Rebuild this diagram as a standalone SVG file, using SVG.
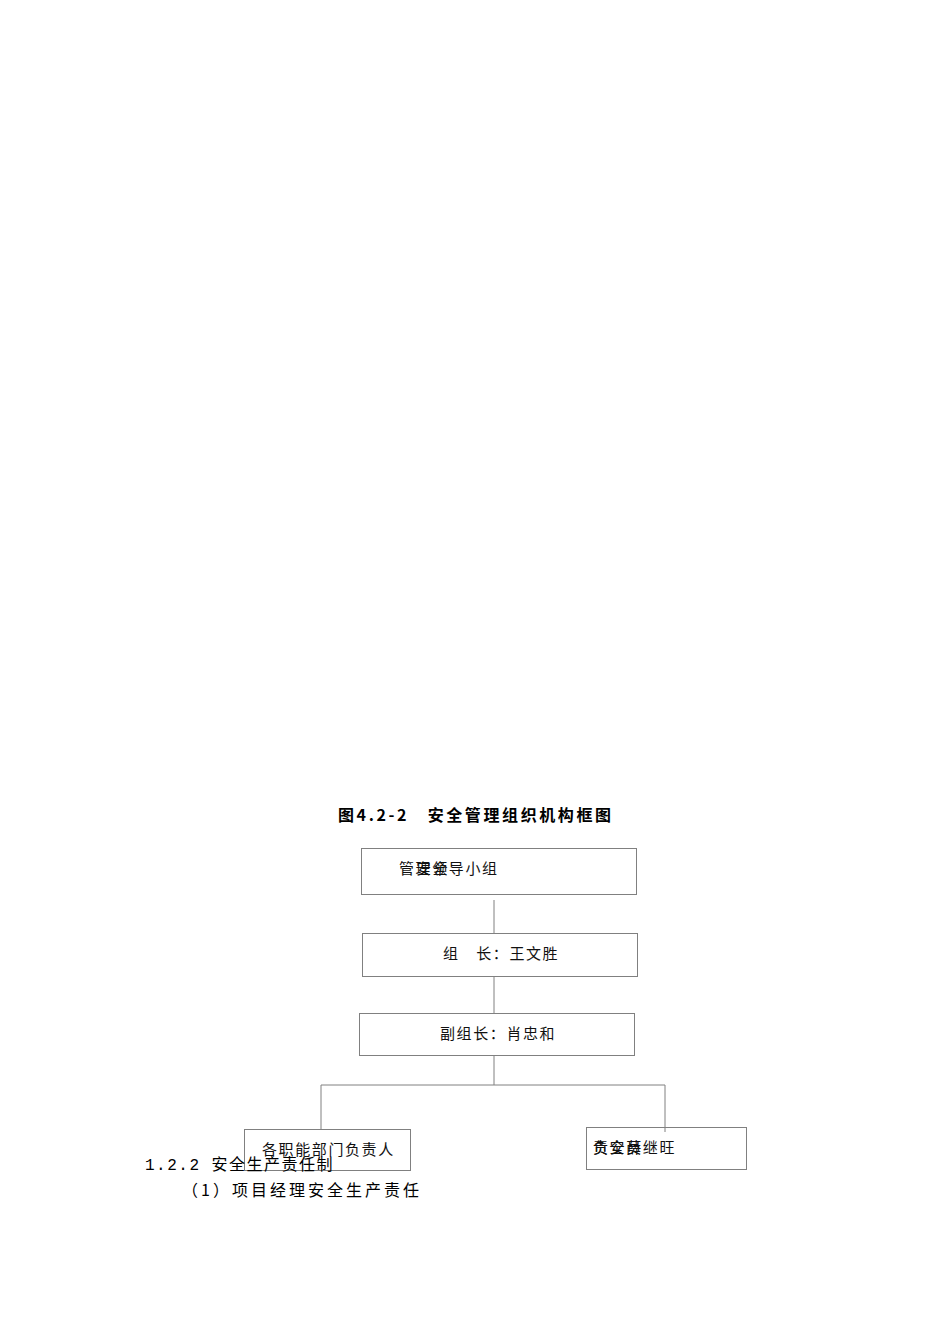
<svg xmlns="http://www.w3.org/2000/svg" width="950" height="1344" viewBox="0 0 950 1344">
<style>
.box{fill:none;stroke:#808080;stroke-width:1}
.ln{stroke:#808080;stroke-width:1;fill:none}
.t{font-family:"Noto Sans CJK SC","Liberation Sans",sans-serif;font-size:15px;fill:#111;letter-spacing:1.6px}
.b{font-family:"Noto Sans CJK SC","Liberation Sans",sans-serif;font-size:16px;fill:#000;font-weight:bold;letter-spacing:2.6px}
.p{font-family:"Liberation Mono","Noto Sans CJK SC",monospace;font-size:16px;fill:#000;letter-spacing:1.5px}
.c{font-family:"Noto Sans CJK SC","Liberation Sans",sans-serif;font-size:16px;fill:#000;letter-spacing:3px}
</style>
<rect width="950" height="1344" fill="#fff"/>
<text class="b" x="338" y="821">图4.2-2　安全管理组织机构框图</text>
<g id="connectors">
<line class="ln" x1="494" y1="900" x2="494" y2="933"/>
<line class="ln" x1="494" y1="977" x2="494" y2="1013"/>
<line class="ln" x1="494" y1="1055" x2="494" y2="1085"/>
<line class="ln" x1="321" y1="1085" x2="665" y2="1085"/>
<line class="ln" x1="321" y1="1085" x2="321" y2="1130"/>
<line class="ln" x1="665" y1="1085" x2="665" y2="1132"/>
</g>
<g id="n1">
<rect class="box" x="361.5" y="848.5" width="275" height="46"/>
<text class="t" x="399" y="874">管理领导小组</text>
<text class="t" x="416" y="874">安全</text>
</g>
<g id="n2">
<rect class="box" x="362.5" y="933.5" width="275" height="43"/>
<text class="t" x="443" y="959">组　长：王文胜</text>
</g>
<g id="n3">
<rect class="box" x="359.5" y="1013.5" width="275" height="42"/>
<text class="t" x="440" y="1039">副组长：肖忠和</text>
</g>
<g id="n4">
<rect class="box" x="244.5" y="1129.5" width="166" height="41"/>
<text class="t" x="262" y="1155">各职能部门负责人</text>
</g>
<g id="n5">
<rect class="box" x="586.5" y="1127.5" width="160" height="42"/>
<text class="t" x="593" y="1153">责安薛继旺</text>
<text class="t" x="593" y="1153">负全员</text>
</g>
<text class="p" x="145" y="1170">1.2.2 <tspan font-family="Noto Sans CJK SC,sans-serif">安全生产责任制</tspan></text>
<text class="c" x="182" y="1196">（1）项目经理安全生产责任</text>
</svg>
